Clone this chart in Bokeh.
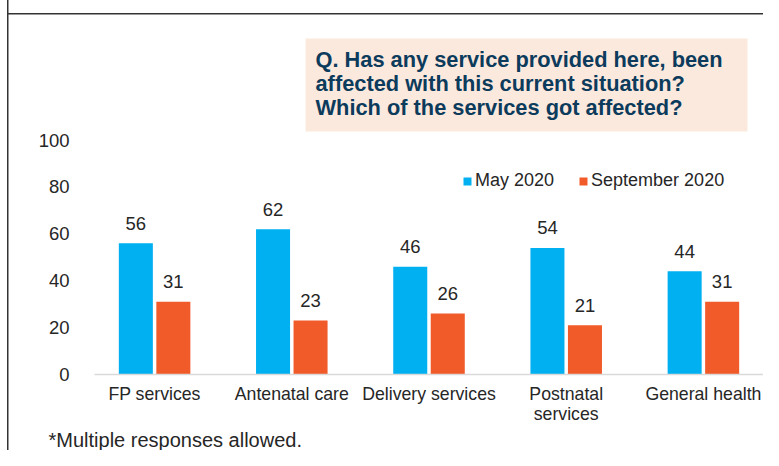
from bokeh.plotting import figure
from bokeh.models import (ColumnDataSource, FactorRange, Range1d, FixedTicker,
                          Legend, LegendItem, Label, BoxAnnotation, Title)
from bokeh.transform import dodge
from bokeh.embed import file_html
from bokeh.resources import INLINE

# ---- data ----
categories = ["FP services", "Antenatal care", "Delivery services",
              "Postnatal\nservices", "General health"]
may_2020 = [56, 62, 46, 54, 44]
sep_2020 = [31, 23, 26, 21, 31]
series_names = ["May 2020", "September 2020"]
y_ticks = [0, 20, 40, 60, 80, 100]
question = ("Q. Has any service provided here, been\n"
            "affected with this current situation?\n"
            "Which of the services got affected?")
footnote = "*Multiple responses allowed."

BLUE = "#00B0F0"
ORANGE = "#F15A29"
TXT = "#262626"
FONT = "Liberation Sans"

source = ColumnDataSource(dict(
    cat=categories,
    may=may_2020,
    sep=sep_2020,
    may_txt=[str(v) for v in may_2020],
    sep_txt=[str(v) for v in sep_2020],
))

p = figure(x_range=FactorRange(factors=categories, range_padding=-0.062,
                               range_padding_units="absolute"),
           y_range=Range1d(0, 159.57),
           width=763, height=450,
           output_backend="svg", toolbar_location=None,
           min_border_left=94, min_border_right=0,
           min_border_top=0, min_border_bottom=75)
p.outline_line_color = None
p.background_fill_alpha = 0
p.border_fill_alpha = 0
p.xgrid.visible = False
p.ygrid.visible = False
# page frame lines of the original slide (pure decoration, drawn by CSS)
p.styles = {
    "background-color": "white",
    "background-image": "linear-gradient(#333,#333), linear-gradient(#333,#333)",
    "background-size": "1.5px 100%, 100% 1.5px",
    "background-position": "6.5px 0px, 6.5px 12.5px",
    "background-repeat": "no-repeat",
}

r_may = p.vbar(x=dodge("cat", -0.1367, range=p.x_range), top="may", width=0.248,
               source=source, fill_color=BLUE, line_color=None)
r_sep = p.vbar(x=dodge("cat", 0.1367, range=p.x_range), top="sep", width=0.248,
               source=source, fill_color=ORANGE, line_color=None)

for col, txt, off in (("may", "may_txt", -0.1367), ("sep", "sep_txt", 0.1367)):
    p.text(x=dodge("cat", off, range=p.x_range), y=col, text=txt, source=source,
           text_align="center", text_baseline="alphabetic", y_offset=-20,
           text_font_size="18.5px", text_color=TXT,
           text_font={"value": FONT})

# axes
p.xaxis.axis_line_color = "#d9d9d9"
p.xaxis.axis_line_width = 1.5
p.xaxis.major_tick_line_color = None
p.xaxis.major_tick_out = 0
p.xaxis.major_tick_in = 0
p.xaxis.minor_tick_line_color = None
p.xaxis.major_label_text_font = FONT
p.xaxis.major_label_text_font_size = "17.7px"
p.xaxis.major_label_text_color = TXT
p.xaxis.major_label_text_line_height = 1.0
p.xaxis.major_label_standoff = 9

p.yaxis.ticker = FixedTicker(ticks=y_ticks)
p.yaxis.axis_line_color = None
p.yaxis.major_tick_line_color = None
p.yaxis.major_tick_out = 0
p.yaxis.major_tick_in = 0
p.yaxis.minor_tick_line_color = None
p.yaxis.major_label_text_font = FONT
p.yaxis.major_label_text_font_size = "18.5px"
p.yaxis.major_label_text_color = TXT
p.yaxis.major_label_standoff = 25

legend = Legend(items=[LegendItem(label=series_names[0], renderers=[r_may]),
                       LegendItem(label=series_names[1], renderers=[r_sep])],
                orientation="horizontal", location=(368, 183),
                glyph_width=10, glyph_height=10, label_standoff=3, spacing=24,
                padding=0, margin=0, border_line_color=None,
                background_fill_alpha=0,
                label_text_font=FONT, label_text_font_size="18px",
                label_text_color=TXT)
p.add_layout(legend)

# question box
p.add_layout(BoxAnnotation(left=211, right=653, top=336, bottom=243,
                           left_units="screen", right_units="screen",
                           top_units="screen", bottom_units="screen",
                           fill_color="#FCE9DE", fill_alpha=1, line_color=None))
p.add_layout(Label(x=221, y=327.4, x_units="screen", y_units="screen",
                   text=question, text_font=FONT, text_font_style="bold",
                   text_font_size="21.8px", text_color="#0C3B5C",
                   text_baseline="top", text_align="left",
                   text_line_height=0.96))

# footnote
p.add_layout(Title(text=footnote, align="left", offset=-46, standoff=0,
                   text_font=FONT, text_font_size="20px",
                   text_font_style="normal", text_color=TXT), "below")

open("out.html", "w").write(file_html(p, INLINE))
